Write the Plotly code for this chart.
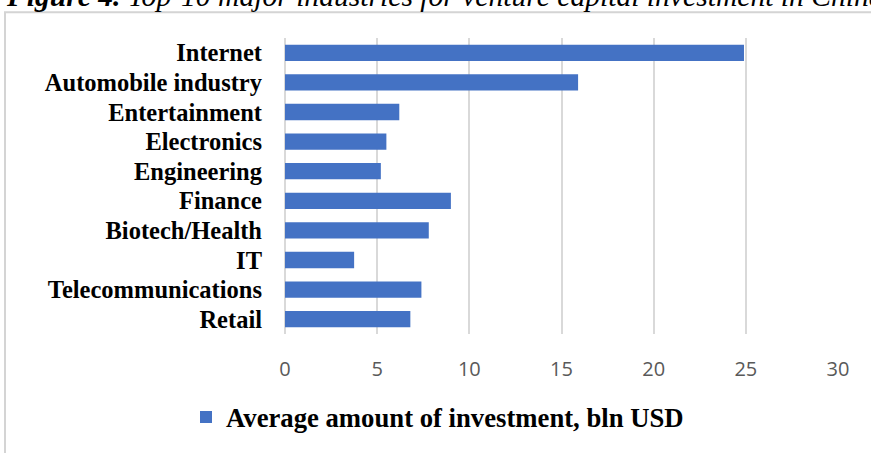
import plotly.graph_objects as go

categories = ["Internet", "Automobile industry", "Entertainment", "Electronics",
              "Engineering", "Finance", "Biotech/Health", "IT",
              "Telecommunications", "Retail"]
values = [24.9, 15.9, 6.2, 5.5, 5.2, 9.0, 7.8, 3.75, 7.4, 6.8]
series_name = "Average amount of investment, bln USD"
x_ticks = [0, 5, 10, 15, 20, 25, 30]

W, H = 871, 453
L, R, T, B = 285, 33, 38, 116
pw, ph = W - L - R, H - T - B


def px_x(p):
    return (p - L) / pw


def px_y(p):
    return (H - B - p) / ph


fig = go.Figure()
fig.add_trace(go.Bar(
    y=categories, x=values, orientation="h", name=series_name,
    marker=dict(color="#4472C4", line=dict(width=0)),
    showlegend=True,
))

fig.update_layout(
    width=W, height=H,
    margin=dict(l=L, r=R, t=T, b=B),
    paper_bgcolor="white", plot_bgcolor="white",
    bargap=0.45,
    showlegend=True,
    legend=dict(
        orientation="h", x=px_x(186), xanchor="left", y=px_y(421), yanchor="middle",
        font=dict(family="Liberation Serif", size=26.7, color="#000000", weight="bold"),
        bgcolor="rgba(0,0,0,0)", itemwidth=30,
    ),
    xaxis=dict(
        range=[0, 30], tickvals=x_ticks, showgrid=True, gridcolor="#d9d9d9", gridwidth=1.5,
        zeroline=True, zerolinecolor="#d9d9d9", zerolinewidth=1.5, showline=False,
        tickfont=dict(family="Open Sans", size=20, color="#595959"),
        ticklabelstandoff=21, fixedrange=True,
    ),
    yaxis=dict(
        categoryorder="array", categoryarray=categories, autorange="reversed",
        tickmode="array", tickvals=categories, ticktext=categories,
        showgrid=False, zeroline=False, showline=False,
        tickfont=dict(family="Liberation Serif", size=24.5, color="#000000", weight="bold"),
        ticklabelstandoff=22, fixedrange=True,
    ),
    shapes=[dict(
        type="rect", xref="paper", yref="paper",
        x0=px_x(5), y0=px_y(480), x1=px_x(900), y1=px_y(12),
        line=dict(color="#d4d4d4", width=2), fillcolor="rgba(0,0,0,0)", layer="below",
    )],
    annotations=[dict(
        text="<b><i>Figure 4.</i></b><i> Top-10 major industries for venture capital investment in China</i>",
        xref="paper", yref="paper", x=px_x(4), xanchor="left",
        y=px_y(13.5), yanchor="bottom", showarrow=False,
        font=dict(family="Liberation Serif", size=29.6, color="#000000"),
    )],
)

fig.write_html("out.html")
